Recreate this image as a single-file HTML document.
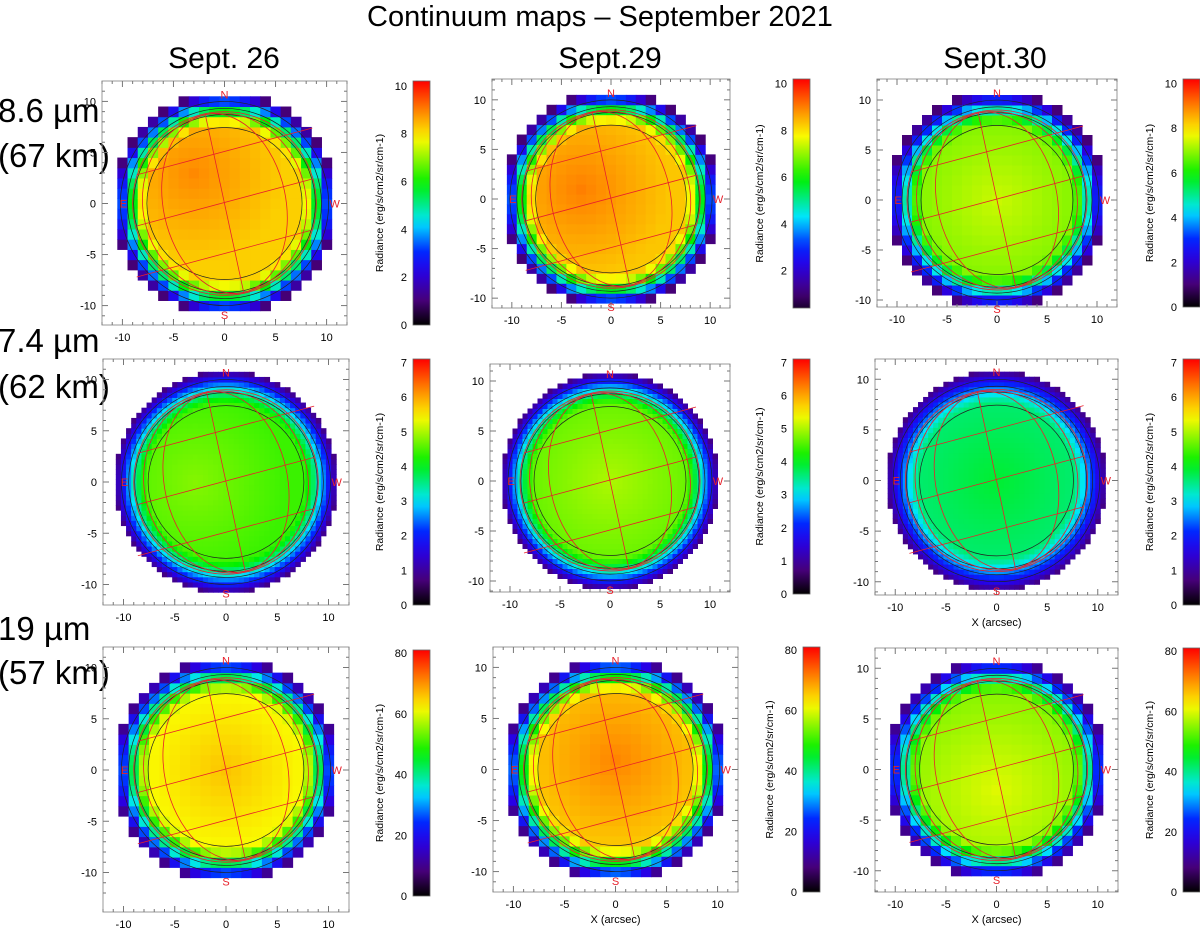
<!DOCTYPE html>
<html><head><meta charset="utf-8"><style>
body{margin:0;background:#fff;width:1200px;height:931px;overflow:hidden;font-family:"Liberation Sans",sans-serif}
svg{position:absolute;left:0;top:0}
</style></head><body>
<svg id="fig" width="1200" height="931" xmlns="http://www.w3.org/2000/svg">
<text x="600" y="26" text-anchor="middle" font-family="Liberation Sans, sans-serif" font-size="29">Continuum maps – September 2021</text>
<text x="224" y="68" text-anchor="middle" font-size="30">Sept. 26</text>
<text x="610" y="68" text-anchor="middle" font-size="30">Sept.29</text>
<text x="995" y="68" text-anchor="middle" font-size="30">Sept.30</text>
<text x="-2" y="122" font-size="33">8.6 µm</text>
<text x="-2" y="167" font-size="33">(67 km)</text>
<text x="-2" y="352" font-size="33">7.4 µm</text>
<text x="-2" y="398" font-size="33">(62 km)</text>
<text x="-2" y="640" font-size="33">19 µm</text>
<text x="-2" y="684" font-size="33">(57 km)</text>
<g id="panels"></g>
</svg>
<script>
// data per panel (row-major: 8.6um Sept26, 29, 30; 7.4um ...; 19um ...)
const panelNames = ["r1-sept26","r1-sept29","r1-sept30","r2-sept26","r2-sept29","r2-sept30","r3-sept26","r3-sept29","r3-sept30"];
const peakValues = [8.9, 9.0, 7.4, 4.8, 5.0, 3.9, 66, 71, 60];
const edgeValues = [1.0, 1.0, 1.0, 0.8, 0.8, 0.8, 10, 10, 10];
const hotX = [-3, -3, 0, -3, 0, 0, 0, 0, 0];
const hotY = [3, 1, 0, 0, 0, 0, 0, 1, -2];
const cbarMin = [0, 0.4, 0, 0, 0, 0, 0, 0, 0];
const cbarMax = [10.2, 10.2, 10.2, 7.1, 7.1, 7.1, 81, 81, 81];
const cbarTicks1 = [0,2,4,6,8,10];
const cbarTicks1b = [2,4,6,8,10];
const cbarTicks2 = [0,1,2,3,4,5,6,7];
const cbarTicks3 = [0,20,40,60,80];
const axisTicks = [-10,-5,0,5,10];

// layout (not data)
const boxes = [
 [102,81,245,244,12],[492,79,238,229,12.1],[877,79,240,228,12.1],
 [103,359,246,246,12],[490,364,240,228,11.7],[875,359,243,236,12],
 [103,647,246,265,12],[493,647,245,245,12],[875,648,243,244,12]];
const cbars = [[413,81,244],[793,79,229],[1183,79,228],[413,359,246],[793,359,235],[1183,359,246],[413,650,246],[803,647,245],[1183,648,244]];
const pixSize = [1,1,1,0.5,0.5,0.5,1,1,1];
const showXTitle = [0,0,0,0,0,1,1,1,1];

const NS="http://www.w3.org/2000/svg";
const root=document.getElementById('panels');
function el(tag,attrs,parent){const e=document.createElementNS(NS,tag);for(const k in attrs)e.setAttribute(k,attrs[k]);(parent||root).appendChild(e);return e;}
const stops=[[0,[0,0,0]],[0.1,[70,0,120]],[0.22,[40,0,230]],[0.3,[0,40,255]],[0.42,[0,230,255]],[0.58,[0,240,0]],[0.76,[250,250,0]],[0.87,[255,140,0]],[1,[255,0,0]]];
function cmap(f){f=Math.max(0,Math.min(1,f));for(let i=1;i<stops.length;i++){if(f<=stops[i][0]){const a=stops[i-1],b=stops[i];const t=(f-a[0])/(b[0]-a[0]);const c=a[1].map((v,j)=>Math.round(v+(b[1][j]-v)*t));return `rgb(${c})`;}}return 'rgb(255,0,0)';}

panelNames.forEach((nm,i)=>{
  const [bx,by,bw,bh,ytop]=boxes[i];
  const s=bw/24;
  const X=v=>bx+(v+12)*s, Y=v=>by+(ytop-v)*s;
  const g=el('g',{});
  
  
  const clipId='clip'+i;
  const cp=el('clipPath',{id:clipId},g);el('rect',{x:bx,y:by,width:bw,height:bh},cp);
  const img=el('g',{'clip-path':`url(#${clipId})`},g);
  
  
  const p=pixSize[i],lo=cbarMin[i],hi=cbarMax[i];
  for(let x=-11;x<=11;x+=p){for(let y=-11;y<=11;y+=p){
    const r=Math.hypot(x,y); if(r>10.9) continue;
    const dh=Math.hypot(x-hotX[i],y-hotY[i]);
    let v=peakValues[i]-(peakValues[i]*0.08)*Math.min(1,dh/9);
    const t=Math.max(0,Math.min(1,(r-7.6)/3.2));
    v=v-(v-edgeValues[i])*Math.pow(t,1.3);
    const c=el('rect',{x:X(x-p/2),y:Y(y+p/2),width:p*s+0.5,height:p*s+0.5,fill:cmap((v-0)/(hi))},img);
    
    
  }}
  // contours
  const cx=X(0),cy=Y(0);
  [10.2,9.5,8.9,7.6].forEach(rr=>{const c=el('ellipse',{cx:cx,cy:cy,rx:rr*s,ry:rr*s*0.98,fill:'none',stroke:'#222','stroke-width':0.7},img);
    });
  // graticule
  const gr=el('g',{fill:'none',stroke:'#e8202a','stroke-width':0.8},img);
  
  el('circle',{cx:cx,cy:cy,r:9*s},gr);
  el('ellipse',{cx:cx,cy:cy,rx:6*s,ry:8.9*s,transform:`rotate(-12 ${cx} ${cy})`},gr);
  el('ellipse',{cx:cx,cy:cy,rx:8*s,ry:8.9*s,transform:`rotate(-12 ${cx} ${cy})`},gr);
  el('line',{x1:X(-1.9),y1:Y(8.8),x2:X(1.9),y2:Y(-8.8)},gr);
  [-5,0,5].forEach(k=>{el('line',{x1:X(-8.6),y1:Y(k-2.2),x2:X(8.6),y2:Y(k+2.4)},gr);});
  // box
  const bxr=el('rect',{x:bx,y:by,width:bw,height:bh,fill:'none',stroke:'#999','stroke-width':1},g);
  
  for(let t=-12;t<=12;t++){const L=(t%5===0)?6:3;
    el('line',{x1:X(t),y1:by+bh,x2:X(t),y2:by+bh-L,stroke:'#777'},g);
    el('line',{x1:X(t),y1:by,x2:X(t),y2:by+L,stroke:'#777'},g);
    if(Y(t)>by&&Y(t)<by+bh){el('line',{x1:bx,y1:Y(t),x2:bx+L,y2:Y(t),stroke:'#777'},g);
    el('line',{x1:bx+bw,y1:Y(t),x2:bx+bw-L,y2:Y(t),stroke:'#777'},g);}}
  axisTicks.forEach(t=>{
    const a=el('text',{x:X(t),y:by+bh+16,'text-anchor':'middle','font-size':11},g);a.textContent=t;
    
    const b=el('text',{x:bx-6,y:Y(t)+4,'text-anchor':'end','font-size':11},g);b.textContent=t;
    
  });
  if(showXTitle[i]){const xt=el('text',{x:X(0),y:by+bh+31,'text-anchor':'middle','font-size':11},g);xt.textContent='X (arcsec)';
    }
  [['N',0,10.7],['S',0,-10.9],['E',-9.9,0],['W',10.8,0]].forEach(([t,x,y])=>{
    const d=el('text',{x:X(x),y:Y(y)+4,'text-anchor':'middle','font-size':11,fill:'#e8202a'},g);d.textContent=t;
    });
  // colorbar
  const [cbx,cby,cbh]=cbars[i];
  const gid='grad'+i;
  const lg=el('linearGradient',{id:gid,x1:0,y1:1,x2:0,y2:0},g);
  for(let k=0;k<=20;k++){const f=k/20;const v=lo+(hi-lo)*f;el('stop',{offset:f,'stop-color':cmap(v/hi)},lg);}
  const cb=el('rect',{x:cbx,y:cby,width:17,height:cbh,fill:`url(#${gid})`,stroke:'#666','stroke-width':0.8},g);
  
  const ticks=i<3?(i===1?cbarTicks1b:cbarTicks1):(i<6?cbarTicks2:cbarTicks3);
  ticks.forEach(t=>{const yy=cby+cbh-(t-lo)/(hi-lo)*cbh;
    const tl=el('text',{x:cbx-6,y:yy+4,'text-anchor':'end','font-size':11},g);tl.textContent=t;
    });
  const lx=cbx-30,ly=cby+cbh/2;
  const lab=el('text',{x:lx,y:ly,'text-anchor':'middle','font-size':10.5,transform:`rotate(-90 ${lx} ${ly})`},g);
  lab.textContent='Radiance (erg/s/cm2/sr/cm-1)';
  
});
</script>
</body></html>
